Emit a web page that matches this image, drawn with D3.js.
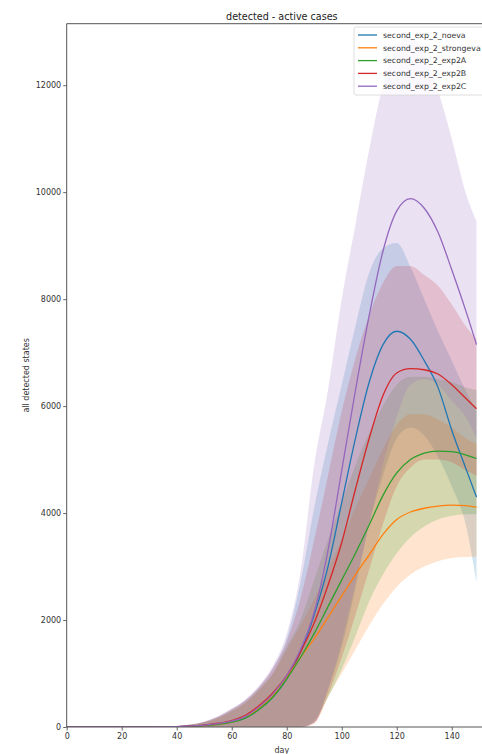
<!DOCTYPE html>
<html>
<head>
<meta charset="utf-8">
<script src="https://cdn.jsdelivr.net/npm/d3@7"></script>
<style>
  html, body { margin: 0; padding: 0; background: #fff; }
  svg { display: block; }
  text { font-family: "DejaVu Sans", sans-serif; }
</style>
</head>
<body>
<svg id="chart" width="482" height="754"></svg>
<script>
// ---- data ----
const days = [0,10,20,30,40,45,50,55,60,65,70,75,80,85,90,95,100,105,110,115,120,125,130,135,140,145,149];

const noevaMean  = [0,0,0,1,5,15,30,55,90,170,330,560,900,1400,2100,3000,4200,5400,6450,7150,7400,7250,6850,6350,5550,4850,4300];
const noevaUpper = [0,0,0,3,15,45,100,190,330,500,750,1100,1650,2700,4100,5300,6400,7500,8500,8950,9050,8600,8000,7400,6850,6300,5900];
const noevaLower = [0,0,0,0,0,0,0,0,0,0,0,0,0,0,80,700,1500,2600,3800,4700,5400,5600,5450,5050,4500,3800,2700];

const strongMean  = [0,0,0,1,3,12,25,50,90,180,350,580,920,1300,1650,2050,2450,2850,3220,3600,3880,4020,4090,4130,4150,4140,4110];
const strongUpper = [0,0,0,3,12,40,90,170,300,460,700,1000,1450,1900,2400,2950,3500,4100,4650,5200,5650,5850,5850,5750,5600,5400,5300];
const strongLower = [0,0,0,0,0,0,0,0,0,0,0,0,0,0,60,560,1000,1450,1900,2300,2620,2850,3000,3100,3160,3180,3190];

const exp2AMean  = [0,0,0,1,3,12,25,50,90,170,330,560,900,1300,1750,2250,2750,3250,3780,4330,4750,5000,5120,5160,5150,5090,5020];
const exp2AUpper = [0,0,0,3,12,40,90,170,300,460,700,1000,1500,2000,2750,3500,4200,4900,5500,6000,6400,6550,6550,6500,6450,6350,6300];
const exp2ALower = [0,0,0,0,0,0,0,0,0,0,0,0,0,0,120,550,1080,1700,2350,2850,3250,3550,3750,3880,3950,3980,3980];

const exp2BMean  = [0,0,0,1,5,18,35,70,120,220,400,640,960,1400,1950,2650,3450,4450,5400,6200,6620,6700,6680,6600,6400,6150,5950];
const exp2BUpper = [0,0,0,3,15,45,100,190,330,500,750,1100,1600,2400,3500,4700,5900,6900,7700,8300,8620,8620,8450,8250,7900,7500,7250];
const exp2BLower = [0,0,0,0,0,0,0,0,0,0,0,0,0,0,80,600,1300,2100,2950,3800,4500,4850,5000,5000,4950,4800,4700];

const exp2CMean  = [0,0,0,1,5,18,35,65,110,200,380,620,960,1450,2150,3300,4800,6300,7700,8900,9650,9880,9700,9250,8550,7800,7150];
const exp2CUpper = [0,0,0,3,15,45,100,200,350,520,780,1150,1750,2900,4900,6300,8000,9400,10800,12000,12700,12900,12600,11900,11000,10000,9450];
const exp2CLower = [0,0,0,0,0,0,0,0,0,0,0,0,0,0,80,700,1600,2700,3800,4900,5800,6400,6500,6400,6100,5800,5400];

const seriesNames = ["second_exp_2_noeva","second_exp_2_strongeva","second_exp_2_exp2A","second_exp_2_exp2B","second_exp_2_exp2C"];
const seriesColors = ["#1f77b4","#ff7f0e","#2ca02c","#d62728","#9467bd"];
const xTicks = [0,20,40,60,80,100,120,140];
const yTicks = [0,2000,4000,6000,8000,10000,12000];
const titleText = "detected - active cases";
const xLabel = "day";
const yLabel = "all detected states";

const series = [
  {name: seriesNames[0], color: seriesColors[0], mean: noevaMean, upper: noevaUpper, lower: noevaLower},
  {name: seriesNames[1], color: seriesColors[1], mean: strongMean, upper: strongUpper, lower: strongLower},
  {name: seriesNames[2], color: seriesColors[2], mean: exp2AMean, upper: exp2AUpper, lower: exp2ALower},
  {name: seriesNames[3], color: seriesColors[3], mean: exp2BMean, upper: exp2BUpper, lower: exp2BLower},
  {name: seriesNames[4], color: seriesColors[4], mean: exp2CMean, upper: exp2CUpper, lower: exp2CLower}
];

// ---- layout ----
const L = 66.7, R = 497, T = 23.7, B = 727;
const x = d3.scaleLinear().domain([0, 156.45]).range([L, R]);
const y = d3.scaleLinear().domain([0, 13150]).range([B, T]);

const svg = d3.select("#chart");

svg.append("defs").append("clipPath").attr("id", "plotclip")
  .append("rect").attr("x", L).attr("y", T).attr("width", R - L).attr("height", B - T);

const plot = svg.append("g").attr("clip-path", "url(#plotclip)");

const lineGen = d3.line().curve(d3.curveMonotoneX);
const areaGen = d3.area().curve(d3.curveMonotoneX);

const ptsOf = s => days.map((d, i) => ({d, m: s.mean[i], u: s.upper[i], l: s.lower[i]}));

series.forEach(s => {
  plot.append("path")
    .attr("d", areaGen.x(p => x(p.d)).y0(p => y(p.l)).y1(p => y(p.u))(ptsOf(s)))
    .attr("fill", s.color)
    .attr("fill-opacity", 0.2)
    .attr("stroke", "none");
});
series.forEach(s => {
  plot.append("path")
    .attr("d", lineGen.x(p => x(p.d)).y(p => y(p.m))(ptsOf(s)))
    .attr("fill", "none")
    .attr("stroke", s.color)
    .attr("stroke-width", 1.3);
});

// ---- axes ----
const axisColor = "#555";
const xAxis = svg.append("g").attr("transform", `translate(0,${B})`)
  .call(d3.axisBottom(x).tickValues(xTicks).tickFormat(d3.format("d")).tickSize(3.5).tickPadding(3).tickSizeOuter(0));
const yAxis = svg.append("g").attr("transform", `translate(${L},0)`)
  .call(d3.axisLeft(y).tickValues(yTicks).tickFormat(d3.format("d")).tickSize(3.5).tickPadding(2).tickSizeOuter(0));

[xAxis, yAxis].forEach(g => {
  g.select(".domain").remove();
  g.selectAll(".tick line").attr("stroke", axisColor).attr("stroke-width", 0.9);
  g.selectAll(".tick text").attr("fill", "#333").style("font-size", "8px").style("font-family", "DejaVu Sans, sans-serif");
});

// spines
svg.append("line").attr("x1", L).attr("x2", L).attr("y1", T).attr("y2", B).attr("stroke", axisColor).attr("stroke-width", 1);
svg.append("line").attr("x1", L).attr("x2", R).attr("y1", B).attr("y2", B).attr("stroke", axisColor).attr("stroke-width", 1);
svg.append("line").attr("x1", L).attr("x2", R).attr("y1", T).attr("y2", T).attr("stroke", axisColor).attr("stroke-width", 1);
svg.append("line").attr("x1", R).attr("x2", R).attr("y1", T).attr("y2", B).attr("stroke", axisColor).attr("stroke-width", 1);

// labels
svg.append("text").attr("x", (L + R) / 2).attr("y", 19.5).attr("text-anchor", "middle")
  .style("font-size", "9.6px").attr("fill", "#222").text(titleText);
svg.append("text").attr("x", (L + R) / 2).attr("y", 753).attr("text-anchor", "middle")
  .style("font-size", "8px").attr("fill", "#333").text(xLabel);
svg.append("text").attr("transform", `translate(28.5,${(T + B) / 2}) rotate(-90)`).attr("text-anchor", "middle")
  .style("font-size", "8px").attr("fill", "#333").text(yLabel);

// ---- legend ----
const lg = svg.append("g");
lg.append("rect").attr("x", 354).attr("y", 27).attr("width", 139).attr("height", 68)
  .attr("rx", 2).attr("fill", "#fff").attr("fill-opacity", 0.8).attr("stroke", "#d6d6d6").attr("stroke-width", 0.8);
series.forEach((s, i) => {
  const cy = 35 + i * 12.8;
  lg.append("line").attr("x1", 358).attr("x2", 377).attr("y1", cy).attr("y2", cy)
    .attr("stroke", s.color).attr("stroke-width", 1.3);
  lg.append("text").attr("x", 383).attr("y", cy + 2.8).style("font-size", "7.8px").attr("fill", "#333").text(s.name);
});
</script>
</body>
</html>
